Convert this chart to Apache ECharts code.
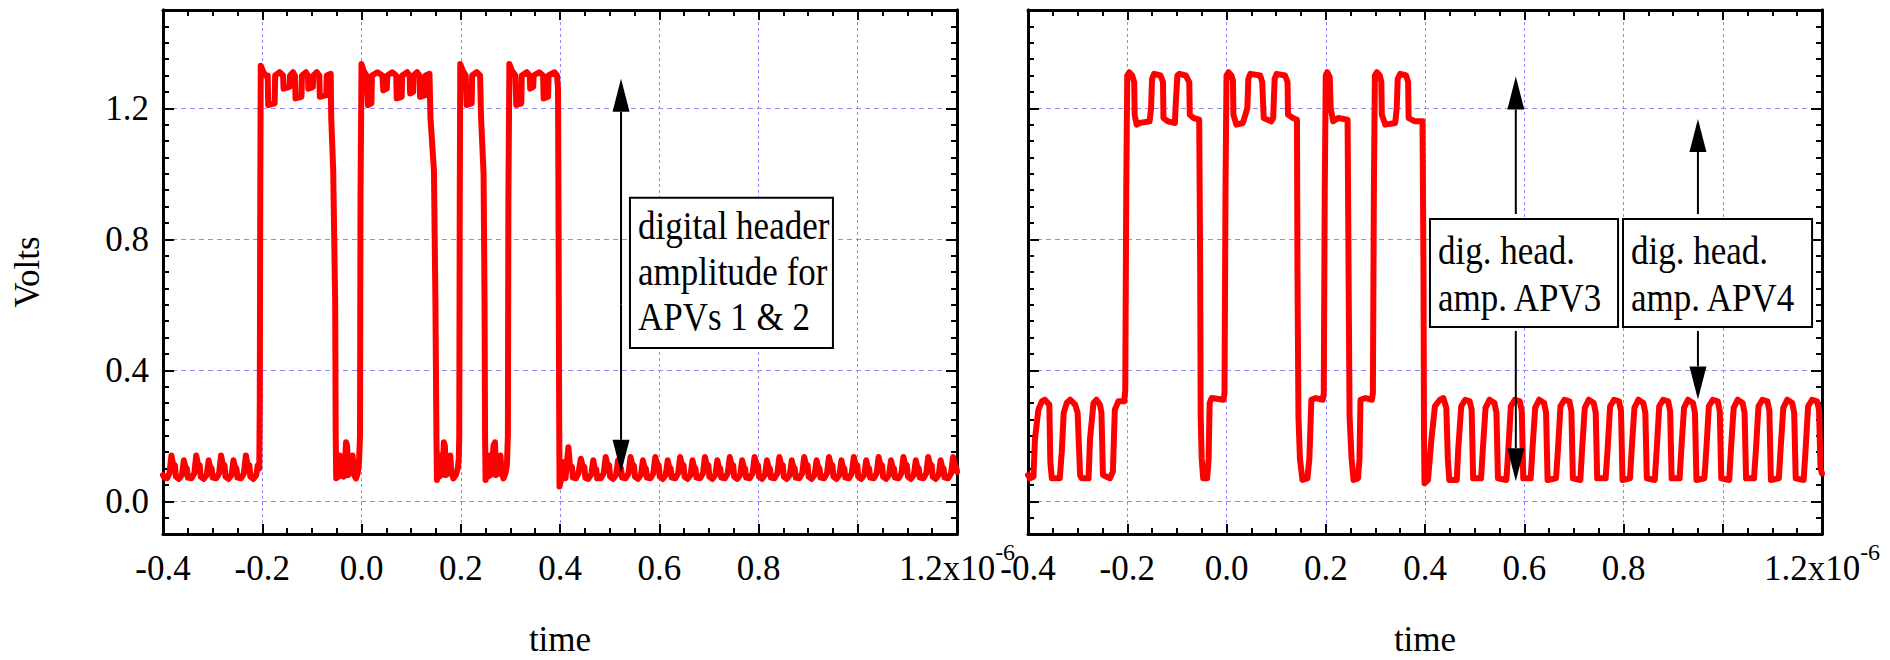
<!DOCTYPE html>
<html>
<head>
<meta charset="utf-8">
<script src="https://cdn.jsdelivr.net/npm/echarts@6/dist/echarts.min.js"></script>
<style>
html, body { margin: 0; padding: 0; background: #fff; }
#chart { width: 1890px; height: 660px; }
</style>
</head>
<body>
<div id="chart"></div>
<script>
// scope traces, [time in ns, volts]
const leftPre = [
  [-400,0.08],[-397,0.072],[-392,0.07],[-387,0.085],
  [-383,0.14],[-380,0.115],[-376,0.11],[-374,0.075],[-368,0.068],[-362,0.08],
  [-358,0.125],[-355,0.105],[-352,0.1],[-350,0.072],[-343,0.07],[-337,0.085],
  [-333,0.14],[-330,0.115],[-326,0.11],[-324,0.075],[-318,0.068],[-312,0.08],
  [-308,0.125],[-305,0.105],[-302,0.1],[-300,0.072],[-293,0.07],[-287,0.085],
  [-283,0.14],[-280,0.115],[-276,0.11],[-274,0.075],[-268,0.068],[-262,0.08],
  [-258,0.125],[-255,0.105],[-252,0.1],[-250,0.072],[-243,0.07],[-237,0.085],
  [-233,0.14],[-230,0.115],[-226,0.11],[-224,0.075],[-218,0.068],[-212,0.08],
  [-209,0.11],[-206,0.1]
];
const leftHeader = [
  [-205,0.3],[-204,0.93],[-203,1.33],[-199,1.315],[-194,1.3],[-189,1.3],[-188,1.21],[-175,1.215],[-174,1.3],[-165,1.31],
  [-158,1.3],[-157,1.26],[-145,1.265],[-144,1.3],[-138,1.31],[-134,1.3],[-133,1.23],[-121,1.235],[-120,1.3],[-112,1.31],
  [-108,1.3],[-107,1.26],[-98,1.265],[-97,1.3],[-90,1.31],[-85,1.3],[-84,1.235],[-71,1.24],[-70,1.3],[-62,1.305],
  [-61,1.17],[-57,1.01],[-53,0.6],[-52,0.2],[-51,0.07],
  [-48,0.12],[-46,0.075],[-44,0.14],[-42,0.08],[-39,0.1],[-36,0.075],[-33,0.13],[-31,0.18],[-29,0.17],[-27,0.08],
  [-24,0.12],[-21,0.09],[-18,0.14],[-15,0.08],[-11,0.07],[-7,0.09],[-5,0.12],[-3,0.2],
  [-2,0.92],[0,1.335],[4,1.315],[10,1.3],[13,1.21],[20,1.215],[21,1.3],[32,1.31],[42,1.3],[44,1.255],[51,1.26],[52,1.3],
  [62,1.31],[70,1.3],[71,1.23],[81,1.235],[82,1.3],[92,1.31],[97,1.3],[98,1.245],[104,1.25],[105,1.3],[112,1.31],
  [117,1.3],[118,1.235],[128,1.24],[129,1.3],[137,1.305],[139,1.17],[146,1.01],[149,0.6],[151,0.2],[152,0.065],
  [155,0.12],[157,0.075],[159,0.14],[161,0.08],[164,0.1],[166,0.18],[168,0.17],[170,0.08],[173,0.13],[176,0.085],
  [179,0.14],[181,0.09],[185,0.07],[190,0.08],[194,0.1],[196,0.13],[197,0.2],
  [198,0.92],[199,1.335],[204,1.315],[210,1.3],[212,1.21],[222,1.215],[223,1.3],[232,1.31],[239,1.3],[241,1.17],
  [246,1.0],[248,0.6],[249,0.2],[250,0.065],
  [253,0.12],[255,0.075],[258,0.14],[260,0.08],[263,0.1],[266,0.17],[269,0.18],[271,0.08],[274,0.13],[277,0.085],
  [280,0.14],[282,0.09],[286,0.07],[290,0.085],[293,0.11],[295,0.2],
  [296,0.92],[298,1.335],[303,1.315],[310,1.3],[312,1.21],[322,1.215],[323,1.3],[333,1.31],[339,1.3],[340,1.26],
  [346,1.265],[347,1.3],[358,1.31],[366,1.3],[367,1.23],[376,1.235],[377,1.3],[389,1.31],[394,1.3],[396,1.26],
  [397,0.9],[398,0.4],[399,0.045]
];
const leftTail = [
  [402,0.065],[405,0.12],[408,0.1],[411,0.07],[414,0.12],[417,0.165],[420,0.11],[424,0.105],[426,0.072],[432,0.07],[437,0.085],
  [442,0.13],[445,0.11],[449,0.105],[451,0.072],[457,0.068],[463,0.082],
  [467,0.125],[470,0.1],[473,0.098],[475,0.07],[482,0.07],[488,0.085],
  [492,0.135],[495,0.115],[499,0.11],[501,0.075],[507,0.068],[513,0.08],
  [517,0.125],[520,0.105],[523,0.1],[525,0.072],[532,0.07],[538,0.085],
  [542,0.135],[545,0.115],[549,0.108],[551,0.075],[557,0.068],[563,0.08],
  [567,0.125],[570,0.105],[573,0.1],[575,0.072],[582,0.07],[588,0.085],
  [592,0.135],[595,0.115],[599,0.11],[601,0.075],[607,0.068],[613,0.08],
  [617,0.125],[620,0.105],[623,0.1],[625,0.072],[632,0.07],[638,0.085],
  [642,0.135],[645,0.115],[649,0.11],[651,0.075],[657,0.068],[663,0.08],
  [667,0.125],[670,0.105],[673,0.1],[675,0.072],[682,0.07],[688,0.085],
  [692,0.135],[695,0.115],[699,0.11],[701,0.075],[707,0.068],[713,0.08],
  [717,0.125],[720,0.105],[723,0.1],[725,0.072],[732,0.07],[738,0.085],
  [742,0.135],[745,0.115],[749,0.11],[751,0.075],[757,0.068],[763,0.08],
  [767,0.125],[770,0.105],[773,0.1],[775,0.072],[782,0.07],[788,0.085],
  [792,0.135],[795,0.115],[799,0.11],[801,0.075],[807,0.068],[813,0.08],
  [817,0.125],[820,0.105],[823,0.1],[825,0.072],[832,0.07],[838,0.085],
  [842,0.135],[845,0.115],[849,0.11],[851,0.075],[857,0.068],[863,0.08],
  [867,0.125],[870,0.105],[873,0.1],[875,0.072],[882,0.07],[888,0.085],
  [892,0.135],[895,0.115],[899,0.11],[901,0.075],[907,0.068],[913,0.08],
  [917,0.125],[920,0.105],[923,0.1],[925,0.072],[932,0.07],[938,0.085],
  [942,0.135],[945,0.115],[949,0.11],[951,0.075],[957,0.068],[963,0.08],
  [967,0.125],[970,0.105],[973,0.1],[975,0.072],[982,0.07],[988,0.085],
  [992,0.135],[995,0.115],[999,0.11],[1001,0.075],[1007,0.068],[1013,0.08],
  [1017,0.125],[1020,0.105],[1023,0.1],[1025,0.072],[1032,0.07],[1038,0.085],
  [1042,0.135],[1045,0.115],[1049,0.11],[1051,0.075],[1057,0.068],[1063,0.08],
  [1067,0.125],[1070,0.105],[1073,0.1],[1075,0.072],[1082,0.07],[1088,0.085],
  [1092,0.135],[1095,0.115],[1099,0.11],[1101,0.075],[1107,0.068],[1113,0.08],
  [1117,0.125],[1120,0.105],[1123,0.1],[1125,0.072],[1132,0.07],[1138,0.085],
  [1142,0.135],[1145,0.115],[1149,0.11],[1151,0.075],[1157,0.068],[1163,0.08],
  [1167,0.125],[1170,0.105],[1173,0.1],[1175,0.072],[1182,0.07],[1188,0.085],
  [1192,0.135],[1195,0.115],[1199,0.1],[1200,0.09]
];

const rightPre = [
  [-400,0.08],[-396,0.07],[-389,0.075],[-386,0.19],[-379,0.28],[-372,0.305],[-366,0.31],[-357,0.295],[-355,0.12],[-352,0.07],
  [-336,0.07],[-332,0.15],[-328,0.27],[-322,0.3],[-315,0.31],[-305,0.295],[-300,0.27],[-295,0.08],[-292,0.07],
  [-278,0.07],[-275,0.19],[-268,0.3],[-262,0.31],[-255,0.295],[-252,0.27],[-249,0.08],[-235,0.07],[-229,0.09],
  [-225,0.28],[-218,0.305],[-206,0.305],[-204,0.34]
];
const rightHeader = [
  [-202,0.95],[-200,1.3],[-196,1.31],[-190,1.3],[-186,1.28],[-185,1.18],[-181,1.15],[-176,1.155],[-155,1.16],[-152,1.2],
  [-150,1.29],[-146,1.305],[-133,1.3],[-128,1.28],[-127,1.17],[-118,1.16],[-104,1.155],[-102,1.22],[-99,1.3],[-95,1.305],
  [-82,1.3],[-75,1.28],[-74,1.18],[-66,1.17],[-55,1.165],
  [-53,0.7],[-52,0.26],[-50,0.13],[-47,0.07],[-39,0.07],[-36,0.13],[-34,0.3],[-30,0.315],[-6,0.31],[-4,0.33],[-2,0.95],
  [0,1.3],[4,1.31],[10,1.3],[13,1.285],[14,1.18],[20,1.15],[33,1.155],[42,1.2],[44,1.29],[48,1.305],[68,1.3],[72,1.28],
  [75,1.17],[90,1.16],[94,1.17],[97,1.29],[101,1.305],[118,1.3],[123,1.28],[124,1.18],[134,1.17],[142,1.165],
  [143,0.7],[145,0.26],[148,0.13],[153,0.065],[163,0.07],[167,0.13],[171,0.31],[180,0.315],[194,0.31],[196,0.33],[198,0.95],
  [200,1.3],[203,1.31],[208,1.295],[210,1.2],[215,1.16],[225,1.17],[244,1.165],
  [246,0.7],[248,0.26],[252,0.13],[256,0.065],[265,0.07],[268,0.13],[270,0.31],[280,0.315],[293,0.31],[295,0.33],[297,0.95],
  [299,1.3],[303,1.31],[309,1.3],[312,1.28],[313,1.18],[320,1.15],[340,1.155],[343,1.2],[345,1.29],[350,1.305],[362,1.3],
  [366,1.28],[367,1.17],[380,1.16],[395,1.16],
  [397,0.7],[398,0.2],[399,0.055],[406,0.065]
];
const rightTail = [
  [413,0.19],[420,0.29],[430,0.31],[437,0.315],[443,0.285],[446,0.13],[449,0.065],
  [464,0.065],[467,0.16],[473,0.29],[481,0.31],[490,0.305],[494,0.28],[497,0.07],
  [513,0.07],[517,0.17],[522,0.285],[530,0.31],[540,0.3],[544,0.27],[547,0.07],
  [564,0.065],[568,0.16],[573,0.29],[581,0.31],[591,0.305],[595,0.275],[598,0.07],
  [613,0.07],[617,0.17],[622,0.285],[630,0.31],[640,0.3],[644,0.27],[647,0.065],
  [664,0.07],[668,0.16],[673,0.29],[681,0.31],[691,0.305],[695,0.275],[698,0.07],
  [713,0.065],[717,0.17],[722,0.285],[730,0.31],[740,0.3],[744,0.27],[747,0.07],
  [764,0.07],[768,0.16],[773,0.29],[781,0.31],[791,0.305],[795,0.275],[798,0.065],
  [813,0.07],[817,0.17],[822,0.285],[830,0.31],[840,0.3],[844,0.27],[847,0.07],
  [863,0.065],[867,0.16],[872,0.29],[880,0.31],[890,0.305],[894,0.275],[897,0.07],
  [913,0.07],[917,0.17],[922,0.285],[930,0.31],[940,0.3],[944,0.27],[947,0.065],
  [963,0.07],[967,0.16],[972,0.29],[980,0.31],[990,0.305],[994,0.275],[997,0.07],
  [1013,0.065],[1017,0.17],[1022,0.285],[1030,0.31],[1040,0.3],[1044,0.27],[1047,0.07],
  [1063,0.07],[1067,0.16],[1072,0.29],[1080,0.31],[1090,0.305],[1094,0.275],[1097,0.065],
  [1113,0.07],[1117,0.17],[1122,0.285],[1130,0.31],[1140,0.3],[1144,0.27],[1147,0.07],
  [1163,0.065],[1167,0.16],[1172,0.29],[1180,0.31],[1190,0.305],[1194,0.28],[1197,0.1],[1200,0.085]
];

// ticks and labels
const xTickLabels = ['-0.4', '-0.2', '0.0', '0.2', '0.4', '0.6', '0.8', '', '1.2x10'];
const xExponent = '-6';
const yTickValues = [0, 0.4, 0.8, 1.2];
const yTickLabels = ['0.0', '0.4', '0.8', '1.2'];

// annotations: arrows [t ns, tail V, tip V], boxes [t left, V top, t right, V bottom]
const leftArrows = [[523, 0.6, 1.29], [523, 0.6, 0.087]];
const rightArrows = [[583, 0.877, 1.297], [583, 0.52, 0.061], [950, 0.877, 1.167], [950, 0.52, 0.311]];
const leftBoxes = [[541, 0.927, 950, 0.468]];
const leftBoxText = [['digital header', 'amplitude for', 'APVs 1 & 2']];
const rightBoxes = [[410, 0.862, 789, 0.532], [799, 0.862, 1180, 0.532]];
const rightBoxText = [['dig. head.', 'amp. APV3'], ['dig. head.', 'amp. APV4']];

const FONT = '"Liberation Serif", "Times New Roman", serif';
const FS = 35;
const GRID_BLUE = '#8c8cff';

const toMicro = pts => pts.map(p => [p[0] / 1000, p[1]]);
const arrowMicro = rows => rows.map(r => [r[0] / 1000, r[1], r[2]]);
const boxMicro = rows => rows.map(r => [r[0] / 1000, r[1], r[2] / 1000, r[3]]);

function xAxes(gridIndex) {
  const common = {
    type: 'value', gridIndex: gridIndex, min: -0.4, max: 1.2, interval: 0.2,
    axisLine: { show: true, onZero: false, lineStyle: { color: '#000', width: 3 } },
    axisTick: { show: true, inside: true, length: 10, lineStyle: { color: '#000', width: 2 } },
    minorTick: { show: true, splitNumber: 4, length: 6, lineStyle: { color: '#000', width: 2 } }
  };
  return [
    Object.assign({}, common, {
      position: 'bottom',
      splitLine: { show: true, lineStyle: { color: GRID_BLUE, width: 1, type: [3, 3] } },
      axisLabel: {
        show: true, margin: 6, color: '#000', fontFamily: FONT, fontSize: FS,
        formatter: function (v) {
          const i = Math.round((v + 0.4) / 0.2);
          const s = xTickLabels[i];
          if (!s) return '';
          if (i === xTickLabels.length - 1) return '{m|' + s + '}{s|' + xExponent + '}';
          return '{m|' + s + '}';
        },
        rich: {
          m: { fontFamily: FONT, fontSize: FS, color: '#000', lineHeight: 56 },
          s: { fontFamily: FONT, fontSize: 24, color: '#000', lineHeight: 24, verticalAlign: 'top' }
        }
      },
      name: 'time', nameLocation: 'middle', nameGap: 91,
      nameTextStyle: { fontFamily: FONT, fontSize: FS, color: '#000', lineHeight: 28 }
    }),
    Object.assign({}, common, {
      position: 'top', splitLine: { show: false }, axisLabel: { show: false }
    })
  ];
}

function yAxes(gridIndex, withLabels) {
  const base = {
    type: 'value', gridIndex: gridIndex, min: -0.1, max: 1.5,
    axisLine: { show: true, onZero: false, lineStyle: { color: '#000', width: 3 } }
  };
  const major = pos => Object.assign({}, base, {
    position: pos,
    axisTick: { show: true, inside: true, length: 11, customValues: yTickValues, lineStyle: { color: '#000', width: 2 } },
    axisLabel: {
      show: withLabels && pos === 'left', customValues: yTickValues, margin: 14,
      color: '#000', fontFamily: FONT, fontSize: FS,
      formatter: v => yTickLabels[yTickValues.findIndex(t => Math.abs(t - v) < 1e-6)] || ''
    },
    splitLine: { show: pos === 'left', lineStyle: { color: GRID_BLUE, width: 1, type: [5, 4] } }
  });
  const minor = pos => Object.assign({}, base, {
    position: pos, interval: 0.05,
    axisTick: { show: true, inside: true, length: 6, lineStyle: { color: '#000', width: 2 } },
    axisLabel: { show: false }, splitLine: { show: false }
  });
  const left = major('left');
  if (withLabels) {
    Object.assign(left, {
      name: 'Volts', nameLocation: 'middle', nameGap: 118, nameRotate: 90,
      nameTextStyle: { fontFamily: FONT, fontSize: FS, color: '#000' }
    });
  }
  return [left, minor('left'), major('right'), minor('right')];
}

function renderArrow(params, api) {
  const tail = api.coord([api.value(0), api.value(1)]);
  const tip = api.coord([api.value(0), api.value(2)]);
  const dir = tip[1] < tail[1] ? -1 : 1;
  const headLen = 33, half = 8.5;
  const baseY = tip[1] - dir * headLen;
  return {
    type: 'group',
    children: [
      { type: 'line', shape: { x1: tail[0], y1: tail[1], x2: tip[0], y2: baseY }, style: { stroke: '#000', lineWidth: 2 } },
      { type: 'polygon', shape: { points: [[tip[0], tip[1]], [tip[0] - half, baseY], [tip[0] + half, baseY]] }, style: { fill: '#000' } }
    ]
  };
}

// the lettering in the original is a bit taller than wide, hence scaleY
function boxRenderer(texts, lineHeight, padTop) {
  const sy = 1.15;
  return function (params, api) {
    const p0 = api.coord([api.value(0), api.value(1)]);
    const p1 = api.coord([api.value(2), api.value(3)]);
    return {
      type: 'group',
      children: [
        { type: 'rect', shape: { x: p0[0], y: p0[1], width: p1[0] - p0[0], height: p1[1] - p0[1] },
          style: { fill: '#fff', stroke: '#000', lineWidth: 2 } },
        { type: 'text', x: p0[0] + 8, y: p0[1] + padTop, scaleY: sy,
          style: { text: texts[params.dataIndex].join('\n'), fontFamily: FONT, fontSize: FS,
                   lineHeight: lineHeight / sy, fill: '#000', verticalAlign: 'top', align: 'left' } }
      ]
    };
  };
}

const traceStyle = { color: '#ff0000', width: 6, join: 'round', cap: 'round' };

const chart = echarts.init(document.getElementById('chart'), null, { renderer: 'svg' });
chart.setOption({
  animation: false,
  backgroundColor: '#fff',
  grid: [
    { left: 163, top: 10, width: 794, height: 524, outerBoundsMode: 'none' },
    { left: 1028, top: 10, width: 794, height: 524, outerBoundsMode: 'none' }
  ],
  xAxis: xAxes(0).concat(xAxes(1)),
  yAxis: yAxes(0, true).concat(yAxes(1, false)),
  series: [
    { type: 'line', xAxisIndex: 0, yAxisIndex: 0, data: toMicro(leftPre.concat(leftHeader, leftTail)),
      showSymbol: false, lineStyle: traceStyle, itemStyle: { color: '#ff0000' }, z: 3, silent: true },
    { type: 'line', xAxisIndex: 2, yAxisIndex: 4, data: toMicro(rightPre.concat(rightHeader, rightTail)),
      showSymbol: false, lineStyle: traceStyle, itemStyle: { color: '#ff0000' }, z: 3, silent: true },
    { type: 'custom', xAxisIndex: 0, yAxisIndex: 0, data: arrowMicro(leftArrows), renderItem: renderArrow, z: 5, silent: true },
    { type: 'custom', xAxisIndex: 0, yAxisIndex: 0, data: boxMicro(leftBoxes), renderItem: boxRenderer(leftBoxText, 45.5, 5), z: 6, silent: true },
    { type: 'custom', xAxisIndex: 2, yAxisIndex: 4, data: arrowMicro(rightArrows), renderItem: renderArrow, z: 5, silent: true },
    { type: 'custom', xAxisIndex: 2, yAxisIndex: 4, data: boxMicro(rightBoxes), renderItem: boxRenderer(rightBoxText, 47, 8), z: 6, silent: true }
  ]
});
</script>
</body>
</html>
